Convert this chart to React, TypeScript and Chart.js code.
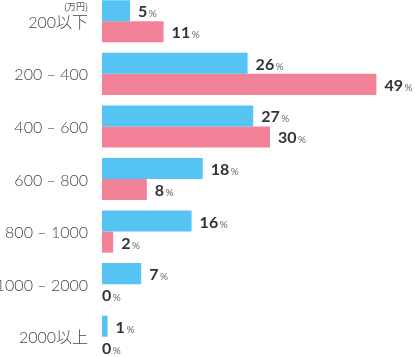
import React, { useEffect, useRef } from "react";
import { Chart, registerables } from "chart.js";

Chart.register(...registerables);

const categories = ["200以下", "200 – 400", "400 – 600", "600 – 800", "800 – 1000", "1000 – 2000", "2000以上"];
const blueValues = [5, 26, 27, 18, 16, 7, 1];
const pinkValues = [11, 49, 30, 8, 2, 0, 0];
const unitLabel = "(万円)";

const BLUE = "#55C4F2";
const PINK = "#F28297";
const TOP_OFFSET = -5;

const valueLabels = {
  id: "valueLabels",
  afterDatasetsDraw(chart: any) {
    const ctx = chart.ctx;
    const left = chart.chartArea.left;
    ctx.save();
    ctx.textBaseline = "alphabetic";
    chart.data.datasets.forEach((ds: any, di: number) => {
      const meta = chart.getDatasetMeta(di);
      meta.data.forEach((bar: any, i: number) => {
        const v = ds.data[i];
        const x = v === 0 ? left : bar.x + 8;
        const y = bar.y + 6.5;
        ctx.font = "700 16px Lato, 'Noto Sans', sans-serif";
        ctx.fillStyle = "#333";
        ctx.textAlign = "left";
        const s = String(v);
        ctx.fillText(s, x, y);
        const w = ctx.measureText(s).width;
        ctx.font = "400 10px Lato, 'Noto Sans', sans-serif";
        ctx.fillStyle = "#666";
        ctx.fillText("%", x + w + 1.5, y);
      });
    });
    // category labels
    const yScale = chart.scales.y;
    ctx.font = "300 16px Lato, 'Noto Sans CJK JP', sans-serif";
    ctx.fillStyle = "#444";
    ctx.textAlign = "right";
    chart.data.labels.forEach((lab: string, i: number) => {
      ctx.fillText(lab, 88, yScale.getPixelForValue(i) + 6.5);
    });
    ctx.font = "400 9px 'Noto Sans CJK JP', sans-serif";
    ctx.fillStyle = "#555";
    ctx.fillText(unitLabel, 88, 10 - TOP_OFFSET);
    ctx.restore();
  },
};

export default function App() {
  const ref = useRef<HTMLCanvasElement>(null);
  useEffect(() => {
    if (!ref.current) return;
    const chart = new Chart(ref.current, {
      type: "bar",
      data: {
        labels: categories,
        datasets: [
          { data: blueValues, backgroundColor: BLUE, categoryPercentage: 0.8, barPercentage: 1 },
          { data: pinkValues, backgroundColor: PINK, categoryPercentage: 0.8, barPercentage: 1 },
        ],
      },
      options: {
        indexAxis: "y",
        animation: false,
        responsive: false,
        maintainAspectRatio: false,
        layout: { padding: { left: 0, right: 5, top: 0, bottom: 0 } },
        plugins: { legend: { display: false }, tooltip: { enabled: false } },
        scales: {
          x: { display: false, min: 0, max: 55 },
          y: {
            grid: { display: false, drawTicks: false },
            border: { display: false },
            ticks: { display: false },
            afterFit(scale: any) {
              scale.width = 102;
              scale.paddingTop = 0;
              scale.paddingBottom = 0;
            },
          },
        },
      },
      plugins: [valueLabels],
    });
    return () => chart.destroy();
  }, []);
  return (
    <div style={{ position: "fixed", left: 0, top: 0, width: 415, height: 357, overflow: "hidden", background: "#fff" }}>
      <canvas ref={ref} width={415} height={368} style={{ position: "absolute", left: 0, top: TOP_OFFSET, width: 415, height: 368 }} />
    </div>
  );
}
